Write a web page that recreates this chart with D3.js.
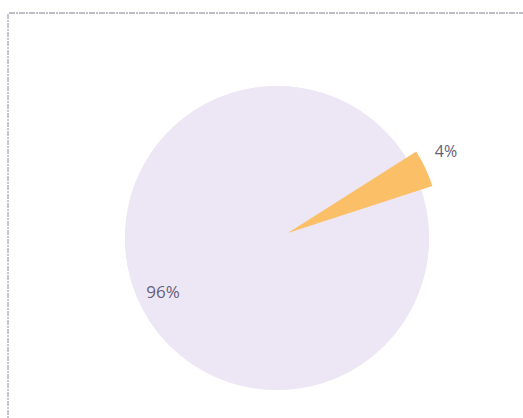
<!DOCTYPE html>
<html><head><meta charset="utf-8">
<script src="https://cdn.jsdelivr.net/npm/d3@7"></script>
<style>html,body{margin:0;padding:0;background:#fff;}svg{display:block;}</style>
</head><body>
<svg id="c" width="523" height="418"></svg>
<script>
const labels = ["4%", "96%"];
const values = [4, 96];
const colors = ["#fbbf68", "#ede7f5"];

const svg = d3.select("#c");
// scan border
svg.append("line").attr("x1", 9).attr("y1", 13).attr("x2", 523).attr("y2", 13)
  .attr("stroke", "#7f7a8a").attr("stroke-width", 1).attr("stroke-dasharray", "6,1,2,1");
svg.append("line").attr("x1", 8).attr("y1", 14).attr("x2", 8).attr("y2", 418)
  .attr("stroke", "#958aa2").attr("stroke-width", 1).attr("stroke-dasharray", "5,1,2,1");

const cx = 277, cy = 238, r = 152;
const deg = Math.PI / 180;
const pie = d3.pie().sort(null).value(d => d).startAngle(57.6 * deg).endAngle(57.6 * deg + 2 * Math.PI);
const arcs = pie(values);
const arc = d3.arc().innerRadius(0).outerRadius(r);
const g = svg.append("g").attr("transform", `translate(${cx},${cy})`);
// pie plate (same colour as the large slice)
g.append("circle").attr("r", r).attr("fill", colors[1]);
const explode = [12, 0];
g.selectAll("path").data(arcs).join("path")
  .attr("d", arc)
  .attr("fill", (d, i) => colors[i])
  .attr("transform", (d, i) => {
    const a = (d.startAngle + d.endAngle) / 2;
    return `translate(${Math.sin(a) * explode[i]},${-Math.cos(a) * explode[i]})`;
  });
const labelR = [190, 126];
g.selectAll("text").data(arcs).join("text")
  .attr("x", (d, i) => Math.sin((d.startAngle + d.endAngle) / 2 - (i === 0 ? 2 * deg : 0)) * labelR[i])
  .attr("y", (d, i) => -Math.cos((d.startAngle + d.endAngle) / 2 - (i === 0 ? 2 * deg : 0)) * labelR[i])
  .attr("dy", "0.35em")
  .attr("text-anchor", "middle")
  .attr("font-family", "Open Sans, sans-serif")
  .attr("font-size", (d, i) => i === 1 ? 17 : 16)
  .attr("fill", "#655f7a")
  .text((d, i) => labels[i]);
</script>
</body></html>
